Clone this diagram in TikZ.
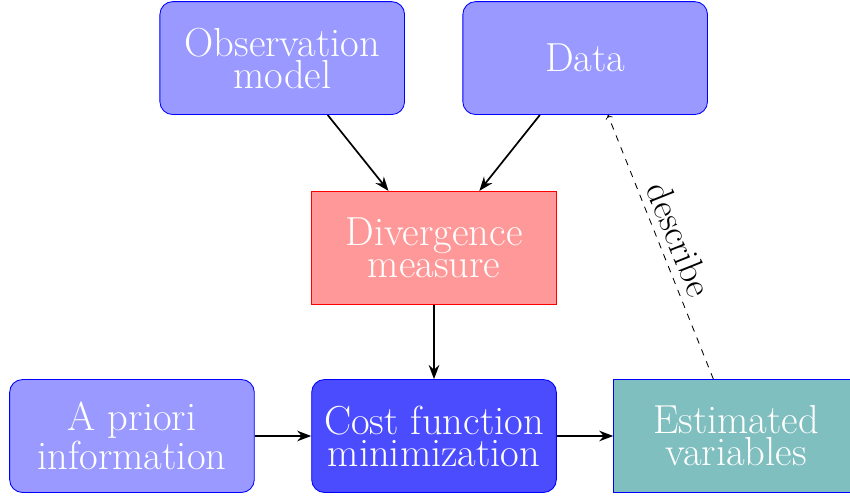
\documentclass[tikz,border=0pt]{standalone}
\usetikzlibrary{arrows.meta}
\tikzset {>=Stealth}
\tikzset{
  bluebox/.style={draw=blue,fill=blue!40,rounded corners=6pt,minimum width=4.03cm,minimum height=1.86cm,align=center,text=white,font=\fontsize{19}{15}\selectfont},
  costbox/.style={bluebox,fill=blue!70},
  divbox/.style={draw=red,fill=red!40,minimum width=4.03cm,minimum height=1.86cm,align=center,text=white,font=\fontsize{19}{15}\selectfont},
  estbox/.style={divbox,draw=blue,fill=teal!50}
}
\begin{document}
\begin{tikzpicture}
\useasboundingbox (-7.149,-1.005) rectangle (6.852,7.182);
\node[bluebox] (obs) at (-2.5,6.225) {Observation\\model};
\node[bluebox] (data) at (2.49,6.225) {Data};
\node[divbox] (div) at (0,3.1) {Divergence\\measure};
\node[bluebox] (prior) at (-4.975,0) {A priori\\information};
\node[costbox] (cost) at (0,0) {Cost function\\minimization};
\node[estbox] (est) at (4.975,0) {Estimated\\variables};
\draw[thick,->] (obs) -- (div);
\draw[thick,->] (data) -- (div);
\draw[thick,->] (div) -- (cost);
\draw[thick,->] (prior) -- (cost);
\draw[thick,->] (cost) -- (est);
\draw[dashed,->,>=to] (est) -- node[sloped,above,font=\LARGE] {describe} (data);
\end{tikzpicture}
\end{document}
